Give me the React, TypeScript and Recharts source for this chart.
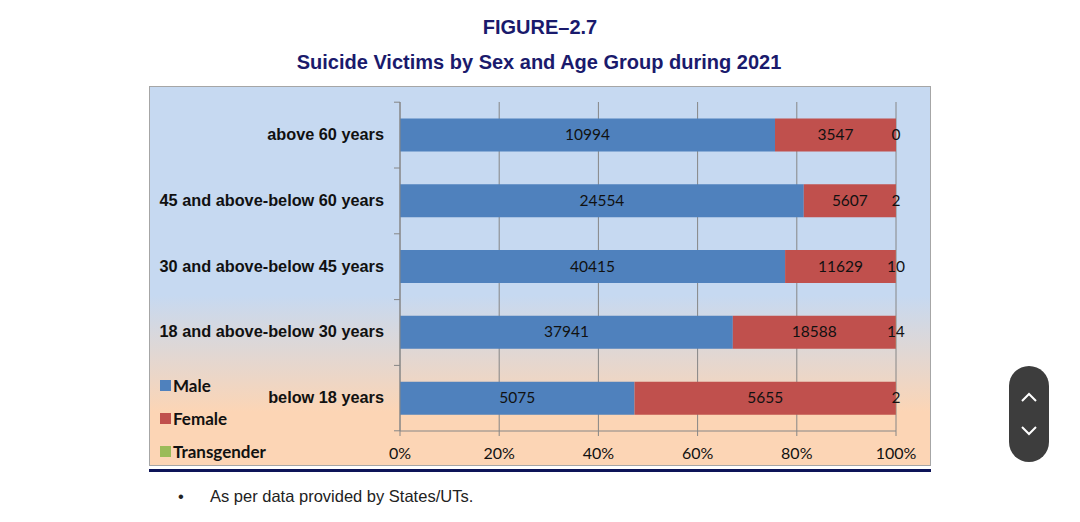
import React from "react";
import { BarChart, Bar, XAxis, YAxis, CartesianGrid, LabelList } from "recharts";

const ageGroups = [
  "above 60 years",
  "45 and above-below 60 years",
  "30 and above-below 45 years",
  "18 and above-below 30 years",
  "below 18 years",
];
const maleValues = [10994, 24554, 40415, 37941, 5075];
const femaleValues = [3547, 5607, 11629, 18588, 5655];
const transgenderValues = [0, 2, 10, 14, 2];
const xTicks = [0, 0.2, 0.4, 0.6, 0.8, 1];

const series = [
  { key: "male", name: "Male", color: "#4f81bd" },
  { key: "female", name: "Female", color: "#c0504d" },
  { key: "transgender", name: "Transgender", color: "#9bbb59" },
];

const data = ageGroups.map((group, i) => ({
  group,
  male: maleValues[i],
  female: femaleValues[i],
  transgender: transgenderValues[i],
}));

const NAVY = "#1a1a6c";
const AXIS = "#868686";
const BAND = 327 / ageGroups.length;

// category label + Excel-style tick marks between bands
const CategoryTick = (props: any) => {
  const { x, y, payload, index } = props;
  const last = index === ageGroups.length - 1;
  return (
    <g>
      <line x1={x + 2} x2={x + 8} y1={y - BAND / 2} y2={y - BAND / 2} stroke={AXIS} />
      {last && <line x1={x + 2} x2={x + 8} y1={y + BAND / 2} y2={y + BAND / 2} stroke={AXIS} />}
      <text
        x={x - 8}
        y={y}
        dy={5}
        textAnchor="end"
        fontFamily="'Liberation Sans', Arial, sans-serif"
        fontWeight="bold"
        fontSize={16.3}
        fill="#111"
      >
        {payload.value}
      </text>
    </g>
  );
};

const labelText = (x: number, y: number, value: any) => (
  <text x={x} y={y} dy={5} textAnchor="middle" fill="#111" fontSize={15.5} fontFamily="Lato, sans-serif">
    {value}
  </text>
);

const CenterLabel = (p: any) => labelText(p.x + p.width / 2, p.y + p.height / 2, p.value);
// transgender segments are ~0 wide (and 0 ones are skipped), so put them at the stack end
const EndLabel = (p: any) => labelText(p.x + p.width, p.y + p.height / 2, p.value);

export default function App() {
  return (
    <div
      style={{
        position: "absolute",
        left: 0,
        top: 0,
        width: 1080,
        height: 522,
        background: "#fff",
        fontFamily: "'Liberation Sans', Arial, sans-serif",
      }}
    >
      <div style={{ position: "absolute", top: 16, width: 1080, textAlign: "center", color: NAVY, fontWeight: "bold", fontSize: 20 }}>
        FIGURE–2.7
      </div>
      <div style={{ position: "absolute", top: 51, left: -1, width: 1080, textAlign: "center", color: NAVY, fontWeight: "bold", fontSize: 20 }}>
        Suicide Victims by Sex and Age Group during 2021
      </div>

      <div
        style={{
          position: "absolute",
          left: 149,
          top: 86,
          width: 780,
          height: 378,
          border: "1px solid #a6a6a6",
          background: "linear-gradient(to bottom, #c6d9f1 0%, #c6d9f1 55%, #fcd5b5 86%, #fcd5b5 100%)",
        }}
      >
        <BarChart
          width={780}
          height={378}
          data={data}
          layout="vertical"
          stackOffset="expand"
          barCategoryGap="25%"
          margin={{ top: 15, right: 34, bottom: 0, left: 0 }}
        >
          <CartesianGrid horizontal={false} stroke={AXIS} />
          <XAxis
            type="number"
            domain={[0, 1]}
            ticks={xTicks}
            tickFormatter={(v: number) => `${Math.round(v * 100)}%`}
            stroke={AXIS}
            tickSize={5}
            height={34}
            tick={{ fill: "#111", fontSize: 16, fontFamily: "Lato, sans-serif" }}
            tickMargin={12}
          />
          <YAxis
            type="category"
            dataKey="group"
            width={250}
            stroke={AXIS}
            tickLine={false}
            tick={<CategoryTick />}
          />
          <Bar dataKey="male" name="Male" stackId="a" fill={series[0].color} isAnimationActive={false}>
            <LabelList dataKey="male" content={CenterLabel} />
          </Bar>
          <Bar dataKey="female" name="Female" stackId="a" fill={series[1].color} isAnimationActive={false}>
            <LabelList dataKey="female" content={CenterLabel} />
            <LabelList dataKey="transgender" content={EndLabel} />
          </Bar>
          <Bar dataKey="transgender" name="Transgender" stackId="a" fill={series[2].color} isAnimationActive={false} />
        </BarChart>

        <div style={{ position: "absolute", left: 10, top: 282, fontFamily: "Lato, sans-serif", fontWeight: "bold", fontSize: 17, color: "#111" }}>
          {series.map((s) => (
            <div key={s.key} style={{ display: "flex", alignItems: "center", height: 33 }}>
              <span style={{ width: 11, height: 11, background: s.color, marginRight: 2, display: "inline-block" }} />
              {s.name}
            </div>
          ))}
        </div>
      </div>

      <div style={{ position: "absolute", left: 149, top: 469, width: 782, height: 3, background: "#0d1458" }} />

      <div style={{ position: "absolute", left: 178, top: 487, fontSize: 16.5, color: "#222" }}>•</div>
      <div style={{ position: "absolute", left: 210, top: 487, fontSize: 16.5, color: "#222" }}>
        As per data provided by States/UTs.
      </div>

      <svg style={{ position: "absolute", left: 1009, top: 366 }} width={40} height={96}>
        <rect x={0} y={0} width={40} height={96} rx={20} fill="#3d3d3d" />
        <polyline points="13,35 20,28 27,35" fill="none" stroke="#fff" strokeWidth={2} />
        <polyline points="13,61 20,68 27,61" fill="none" stroke="#fff" strokeWidth={2} />
      </svg>
    </div>
  );
}
